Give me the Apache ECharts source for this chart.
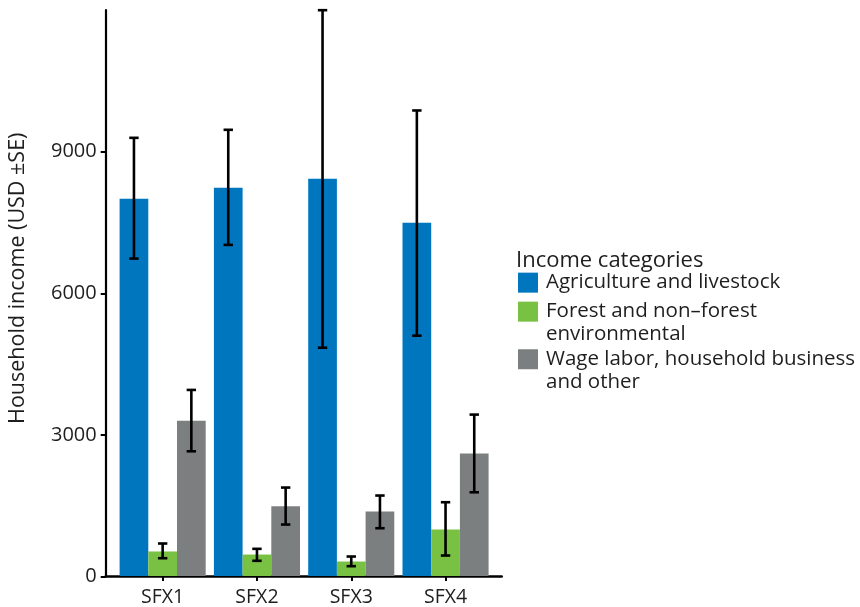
<!DOCTYPE html>
<html>
<head>
<meta charset="utf-8">
<title>Household income by income category</title>
<script src="https://cdn.jsdelivr.net/npm/echarts@6/dist/echarts.min.js"></script>
<style>
  html, body { margin: 0; padding: 0; background: #ffffff; }
  #chart { width: 860px; height: 607px; }
</style>
</head>
<body>
<div id="chart"></div>
<script>
// Sites and income categories
const categories = ['SFX1', 'SFX2', 'SFX3', 'SFX4'];
const seriesNames = [
  'Agriculture and livestock',
  'Forest and non\u2013forest\nenvironmental',
  'Wage labor, household business\nand other'
];

// Mean household income (USD) with lower / upper bounds (mean ± SE)
const agriculture     = [8000, 8230, 8420, 7490];
const agricultureLow  = [6730, 7020, 4840, 5095];
const agricultureHigh = [9290, 9460, 11996, 9870];

const forest     = [520, 455, 307, 985];
const forestLow  = [377, 322, 208, 434];
const forestHigh = [689, 576, 413, 1564];

const wage     = [3294, 1479, 1367, 2595];
const wageLow  = [2644, 1091, 1013, 1775];
const wageHigh = [3945, 1875, 1706, 3422];

const yTicks = [0, 3000, 6000, 9000];
const yMax = 12000;

const colors = ['#0076bf', '#78c143', '#7c7f80'];
const FONT = 'Open Sans';
const TEXT = '#1e1e1e';
const CAT_GAP = 0.087;
const LEGEND_LINE = 22.5;

function errorBars(slot) {
  return function (params, api) {
    const band = api.size([1, 0])[0];
    const barW = band * (1 - CAT_GAP) / 3;
    const idx = api.value(0);
    const x = api.coord([idx, 0])[0] + (slot - 1) * barW;
    const yLow = api.coord([idx, api.value(1)])[1];
    const yHigh = api.coord([idx, api.value(2)])[1];
    const style = { stroke: '#000000', lineWidth: 2.6, fill: null };
    const half = 4.7;
    return {
      type: 'group',
      children: [
        { type: 'line', shape: { x1: x, y1: yHigh, x2: x, y2: yLow }, style: style },
        { type: 'line', shape: { x1: x - half, y1: yHigh, x2: x + half, y2: yHigh }, style: style },
        { type: 'line', shape: { x1: x - half, y1: yLow, x2: x + half, y2: yLow }, style: style }
      ]
    };
  };
}

function errorSeries(slot, low, high) {
  return {
    type: 'custom',
    name: 'se' + slot,
    xAxisIndex: 0,
    yAxisIndex: 0,
    z: 5,
    silent: true,
    renderItem: errorBars(slot),
    encode: { x: 0, y: [1, 2] },
    data: categories.map((c, i) => [i, low[i], high[i]])
  };
}

function barSeries(k, values) {
  return {
    type: 'bar',
    name: seriesNames[k],
    xAxisIndex: 0,
    yAxisIndex: 0,
    barGap: '0%',
    barCategoryGap: (CAT_GAP * 100) + '%',
    itemStyle: { color: colors[k] },
    data: values
  };
}

const legendText = {
  fontSize: 20.5,
  lineHeight: LEGEND_LINE,
  color: TEXT,
  fontFamily: FONT,
  padding: [0, 0, 0, 3]
};

// Two-line entries get an empty leading line so the swatch sits beside the first line
function legendItem(k, top, multiLine) {
  return {
    orient: 'vertical',
    icon: 'rect',
    itemWidth: 20,
    itemHeight: 20,
    padding: 5,
    selectedMode: false,
    left: 513,
    top: top,
    data: [seriesNames[k]],
    formatter: multiLine ? (name) => '\n' + name : (name) => name,
    textStyle: legendText
  };
}

const chart = echarts.init(document.getElementById('chart'), null, { renderer: 'canvas' });

chart.setOption({
  animation: false,
  backgroundColor: '#ffffff',
  textStyle: { fontFamily: FONT },
  title: {
    text: 'Income categories',
    left: 516,
    top: 250,
    padding: 0,
    textStyle: { fontSize: 22, fontWeight: 'normal', color: TEXT, fontFamily: FONT }
  },
  legend: [
    legendItem(0, 266.4, false),
    legendItem(1, 272.9, true),
    legendItem(2, 320.5, true)
  ],
  grid: [
    // plotting band for the bars
    { left: 115.5, right: 367.3, top: 10, bottom: 30.5, containLabel: false },
    // full panel frame (axis lines, y scale)
    { left: 105.7, right: 358.3, top: 10, bottom: 30.5, containLabel: false }
  ],
  xAxis: [
    {
      type: 'category',
      gridIndex: 0,
      data: categories,
      axisLine: { show: false },
      axisTick: { show: true, alignWithLabel: true, length: 5, lineStyle: { color: '#000000', width: 2 } },
      axisLabel: { fontSize: 19.5, color: TEXT, margin: 11, fontFamily: FONT },
      splitLine: { show: false }
    },
    {
      type: 'value',
      gridIndex: 1,
      min: 0,
      max: 1,
      axisLine: { show: true, lineStyle: { color: '#000000', width: 2.5 } },
      axisTick: { show: false },
      axisLabel: { show: false },
      splitLine: { show: false }
    }
  ],
  yAxis: [
    {
      type: 'value',
      gridIndex: 0,
      min: 0,
      max: yMax,
      show: false,
      splitLine: { show: false }
    },
    {
      type: 'value',
      gridIndex: 1,
      min: 0,
      max: yMax,
      name: 'Household income (USD \u00b1SE)',
      nameLocation: 'middle',
      nameGap: 77,
      nameTextStyle: { fontSize: 21.5, color: TEXT, fontFamily: FONT, padding: [0, 0, 0, 30] },
      axisLine: { show: true, lineStyle: { color: '#000000', width: 2.2 } },
      axisTick: { show: true, length: 5, customValues: yTicks, lineStyle: { color: '#000000', width: 2 } },
      axisLabel: {
        fontSize: 20,
        color: TEXT,
        margin: 9,
        fontFamily: FONT,
        customValues: yTicks,
        formatter: (v) => String(v)
      },
      splitLine: { show: false }
    }
  ],
  series: [
    barSeries(0, agriculture),
    barSeries(1, forest),
    barSeries(2, wage),
    errorSeries(0, agricultureLow, agricultureHigh),
    errorSeries(1, forestLow, forestHigh),
    errorSeries(2, wageLow, wageHigh)
  ]
});
</script>
</body>
</html>
